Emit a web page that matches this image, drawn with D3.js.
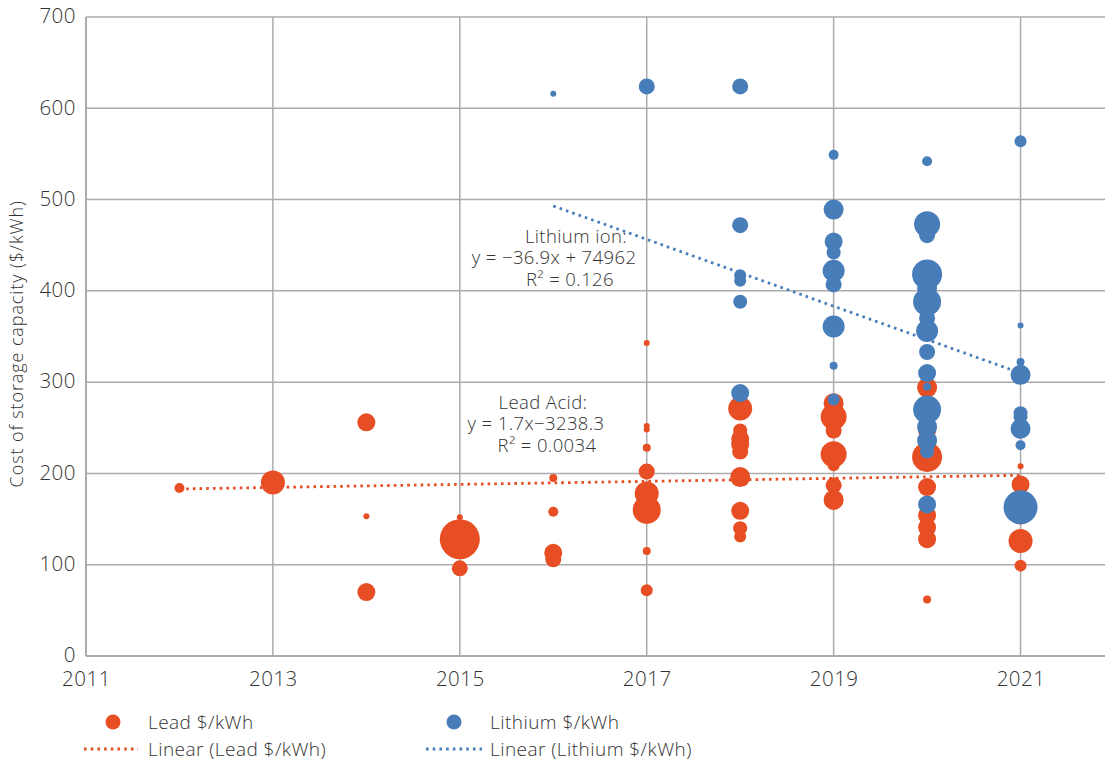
<!DOCTYPE html>
<html><head><meta charset="utf-8">
<script src="https://cdn.jsdelivr.net/npm/d3@7"></script>
<style>
html,body{margin:0;padding:0;background:#fff;}
text{font-family:"Open Sans","Noto Sans",sans-serif;font-weight:300;fill:#333;}
</style></head>
<body><svg id="c" width="1105" height="763"></svg>
<script>
// ---- data ----
const xTicks = [2011, 2013, 2015, 2017, 2019, 2021];
const yTicks = [0, 100, 200, 300, 400, 500, 600, 700];
// [year, $/kWh, bubble size]
const leadPoints = [
  [2012,184,25],
  [2013,190,144],
  [2014,256,81],[2014,153,9],[2014,70,81],
  [2015,128,400],[2015,152,9],[2015,96,64],
  [2016,195,16],[2016,158,25],[2016,113,81],[2016,106,64],
  [2017,343,9],[2017,252,9],[2017,248,9],[2017,228,16],[2017,202,64],[2017,178,144],[2017,170,100],[2017,160,196],[2017,115,16],[2017,72,36],
  [2018,271,144],[2018,247,49],[2018,238,81],[2018,232,81],[2018,224,64],[2018,196,100],[2018,159,81],[2018,140,49],[2018,131,36],
  [2019,277,100],[2019,262,169],[2019,247,64],[2019,221,169],[2019,209,36],[2019,187,64],[2019,171,100],
  [2020,294,100],[2020,258,64],[2020,247,81],[2020,233,64],[2020,218,225],[2020,185,81],[2020,154,81],[2020,141,81],[2020,128,81],[2020,62,16],
  [2021,208,9],[2021,188,81],[2021,155,100],[2021,126,144],[2021,99,36]
];
const lithiumPoints = [
  [2016,616,9],
  [2017,624,64],
  [2018,624,64],[2018,472,64],[2018,417,36],[2018,411,36],[2018,388,49],[2018,288,81],
  [2019,549,25],[2019,489,100],[2019,454,81],[2019,442,49],[2019,422,121],[2019,407,64],[2019,361,121],[2019,318,16],[2019,281,36],
  [2020,542,25],[2020,473,169],[2020,461,64],[2020,418,225],[2020,403,100],[2020,388,196],[2020,370,64],[2020,356,121],[2020,333,64],[2020,310,81],[2020,295,16],[2020,270,196],[2020,251,100],[2020,236,100],[2020,224,49],[2020,166,81],
  [2021,564,36],[2021,362,9],[2021,322,16],[2021,308,100],[2021,266,49],[2021,262,49],[2021,249,100],[2021,231,25],[2021,163,289]
];
const leadTrend = [[2012,183],[2021,198]];
const lithiumTrend = [[2016,493],[2021,310]];
const leadLabel = ["Lead Acid:", "y = 1.7x\u22123238.3", "R\u00b2 = 0.0034"];
const lithiumLabel = ["Lithium ion:", "y = \u221236.9x + 74962", "R\u00b2 = 0.126"];
const legendItems = ["Lead $/kWh", "Lithium $/kWh", "Linear (Lead $/kWh)", "Linear (Lithium $/kWh)"];

// ---- chart ----
const W = 1105, H = 763;
const leadColor = "#E74E23", lithColor = "#477DB9", gridColor = "#ABABAB";
const svg = d3.select("#c");
const x = d3.scaleLinear().domain([2011, 2022]).range([86, 1114]);
const y = d3.scaleLinear().domain([0, 700]).range([656, 17]);
const r = d3.scaleSqrt().domain([0, 400]).range([0, 20]);

svg.append("clipPath").attr("id","clip").append("rect").attr("x",0).attr("y",0).attr("width",W).attr("height",H);
const g = svg.append("g").attr("clip-path","url(#clip)");

// gridlines
g.selectAll(".hg").data(yTicks.filter(d=>d>0)).join("line")
  .attr("x1", x(2011)).attr("x2", W).attr("y1", d=>y(d)).attr("y2", d=>y(d))
  .attr("stroke", gridColor).attr("stroke-width", 1.5);
g.selectAll(".vg").data(xTicks.filter(d=>d>2011)).join("line")
  .attr("x1", d=>x(d)).attr("x2", d=>x(d)).attr("y1", y(0)).attr("y2", y(700))
  .attr("stroke", gridColor).attr("stroke-width", 1.5);
// axes lines
g.append("line").attr("x1",x(2011)).attr("x2",x(2011)).attr("y1",y(0)).attr("y2",y(700)).attr("stroke",gridColor).attr("stroke-width",2);
g.append("line").attr("x1",x(2011)).attr("x2",W).attr("y1",y(0)).attr("y2",y(0)).attr("stroke",gridColor).attr("stroke-width",2);

// axis labels via d3 axes
const yAxis = svg.append("g").attr("transform",`translate(${x(2011)},0)`)
  .call(d3.axisLeft(y).tickValues(yTicks).tickSize(0).tickPadding(10));
yAxis.select(".domain").remove();
yAxis.selectAll("text").style("font-size","20.5px").style("letter-spacing","0.5px").attr("dy","0.28em");
const xAxis = svg.append("g").attr("transform",`translate(0,${y(0)})`)
  .call(d3.axisBottom(x).tickValues(xTicks).tickFormat(d3.format("d")).tickSize(0).tickPadding(15));
xAxis.select(".domain").remove();
xAxis.selectAll("text").style("font-size","20.5px").style("letter-spacing","0.5px");

svg.append("text").attr("transform",`translate(23,${y(342)}) rotate(-90)`)
  .attr("text-anchor","middle").style("font-size","18px").style("letter-spacing","0.9px")
  .text("Cost of storage capacity ($/kWh)");

// bubbles
g.selectAll(".lead").data(leadPoints).join("circle")
  .attr("cx", d=>x(d[0])).attr("cy", d=>y(d[1])).attr("r", d=>r(d[2]))
  .attr("fill", leadColor);
g.selectAll(".lith").data(lithiumPoints).join("circle")
  .attr("cx", d=>x(d[0])).attr("cy", d=>y(d[1])).attr("r", d=>r(d[2]))
  .attr("fill", lithColor);

// trend lines
const line = d3.line().x(d=>x(d[0])).y(d=>y(d[1]));
function dotted(sel, color){
  sel.attr("fill","none").attr("stroke",color).attr("stroke-width",2.8)
    .attr("stroke-dasharray","2.6 4.1");
}
g.append("path").attr("d", line(leadTrend)).call(dotted, leadColor);
g.append("path").attr("d", line(lithiumTrend)).call(dotted, lithColor);

// annotations (one text block each, three lines)
function annot(lines, xs, ys){
  const t = svg.append("text").attr("text-anchor","middle")
    .style("font-size","18.5px").style("letter-spacing","0.4px");
  t.selectAll("tspan").data(lines).join("tspan")
    .attr("x",(d,i)=>xs[i]).attr("y",(d,i)=>ys[i]).attr("dy","0.35em").text(d=>d);
}
annot(lithiumLabel, [576, 554, 570], [237, 258, 280]);
annot(leadLabel, [543, 536, 547], [403, 424, 446]);

// legend
const leg = svg.append("g");
leg.append("circle").attr("cx",113).attr("cy",722).attr("r",7.5).attr("fill",leadColor);
leg.append("circle").attr("cx",454).attr("cy",722).attr("r",7.5).attr("fill",lithColor);
leg.append("path").attr("d","M84,749H138").call(dotted, leadColor);
leg.append("path").attr("d","M426,749H482").call(dotted, lithColor);
const legPos = [[148,722],[490,722],[148,749],[490,749]];
leg.selectAll("text").data(legendItems).join("text")
  .attr("x",(d,i)=>legPos[i][0]).attr("y",(d,i)=>legPos[i][1]).attr("dy","0.35em")
  .style("font-size","19px").style("letter-spacing","0.45px").text(d=>d);
</script></body></html>
